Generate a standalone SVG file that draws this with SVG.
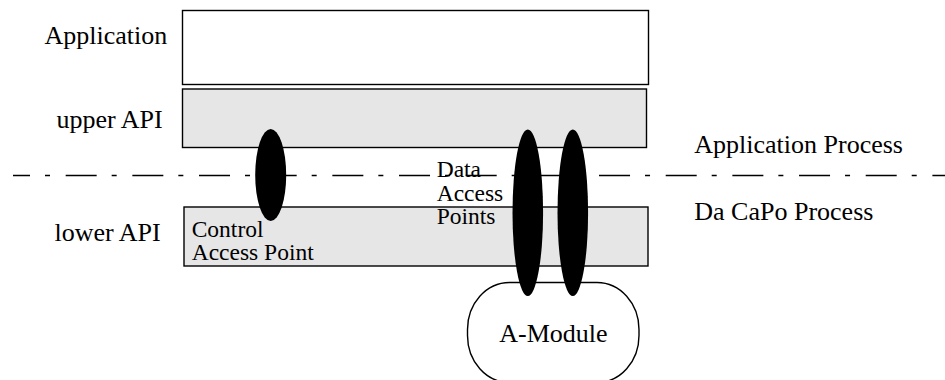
<svg xmlns="http://www.w3.org/2000/svg" width="945" height="380" viewBox="0 0 945 380">
  <style>
    .box { stroke: #000; stroke-width: 1.4; }
    .white { fill: #fff; }
    .grey { fill: #e6e6e6; }
    .ap { fill: #000; }
    .lbl { font-family: 'Liberation Serif', serif; font-size: 26px; fill: #000; }
    .small { font-family: 'Liberation Serif', serif; font-size: 23.5px; fill: #000; }
    .boundary { stroke: #000; stroke-width: 1.5; fill: none; stroke-dasharray: 31 15 5 15.67; }
  </style>
  <rect width="945" height="380" fill="#fff"/>

  <!-- layer stack -->
  <g id="application">
    <rect class="box white" x="182.5" y="10.5" width="466" height="74"/>
    <text class="lbl" x="44.5" y="44">Application</text>
  </g>
  <g id="upper-api">
    <rect class="box grey" x="182.5" y="89" width="464" height="58.5"/>
    <text class="lbl" x="56.5" y="128.3">upper API</text>
  </g>
  <g id="lower-api">
    <rect class="box grey" x="184" y="207" width="464" height="59"/>
    <text class="lbl" x="54.5" y="240.7">lower API</text>
  </g>
  <g id="a-module">
    <rect class="box white" x="467.5" y="282.5" width="171.5" height="100" rx="42" ry="47"/>
    <text class="lbl" x="499.3" y="341.7">A-Module</text>
  </g>

  <!-- process boundary (dash-dot) -->
  <g id="connectors">
    <line class="boundary" x1="13" y1="175.5" x2="945" y2="175.5" stroke-dashoffset="14"/>
  </g>

  <g id="process-labels">
    <text class="lbl" x="694.3" y="153.3">Application Process</text>
    <text class="lbl" x="694.3" y="220">Da CaPo Process</text>
  </g>

  <!-- access points -->
  <g id="control-access-point">
    <ellipse class="ap" cx="270.7" cy="175" rx="15.5" ry="46"/>
    <text class="small" x="191.7" y="237.3">Control</text>
    <text class="small" x="191.7" y="260">Access Point</text>
  </g>
  <g id="data-access-points">
    <ellipse class="ap" cx="527.8" cy="212.7" rx="15.3" ry="83.3"/>
    <ellipse class="ap" cx="572.8" cy="212.7" rx="15.3" ry="83.3"/>
    <text class="small" x="436.7" y="176.7">Data</text>
    <text class="small" x="436.7" y="200.7">Access</text>
    <text class="small" x="436.7" y="224.3">Points</text>
  </g>
</svg>
